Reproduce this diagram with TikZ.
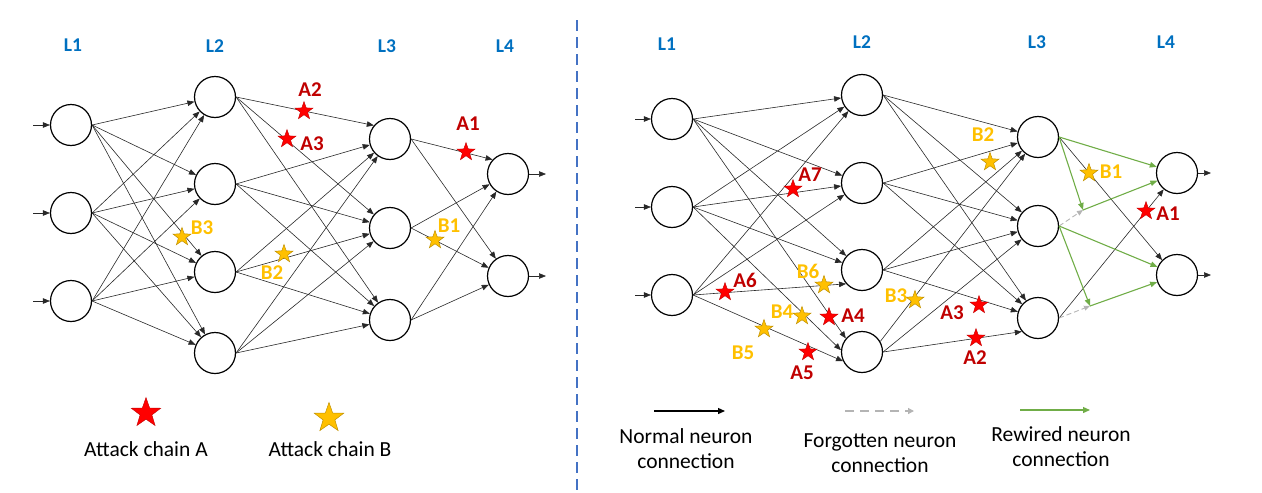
\documentclass[tikz,border=0pt]{standalone}
\usepackage{fontspec}
\setmainfont{Carlito}
\usetikzlibrary{arrows.meta,shapes.geometric}
\definecolor{layerblue}{RGB}{0,112,192}
\definecolor{sepblue}{RGB}{68,114,196}
\definecolor{redfill}{RGB}{255,0,0}
\definecolor{redtext}{RGB}{192,0,0}
\definecolor{goldfill}{RGB}{255,192,0}
\definecolor{goldedge}{RGB}{191,144,0}
\definecolor{rewired}{RGB}{112,173,71}
\definecolor{forgot}{RGB}{180,180,180}
\definecolor{edgecol}{RGB}{40,40,40}
\begin{document}
\begin{tikzpicture}[x=1pt,y=-1pt,
  neuron/.style={circle,draw,line width=1.2pt,minimum size=41pt,inner sep=0pt},
  conn/.style={draw=edgecol,line width=0.6pt,-{Triangle[length=7pt,width=5.5pt]}},
  greenconn/.style={draw=rewired,line width=1.1pt,-{Triangle[length=7pt,width=5.5pt]},rewired},
  forgotconn/.style={draw=forgot,line width=0.9pt,dash pattern=on 5pt off 3pt,-{Triangle[length=6pt,width=5pt]},forgot},
  layerlab/.style={font=\fontsize{19.5}{22}\selectfont\bfseries,text=layerblue,inner sep=0pt},
  alab/.style={font=\fontsize{21}{24}\selectfont\bfseries,text=redtext,inner sep=0pt},
  blab/.style={font=\fontsize{21}{24}\selectfont\bfseries,text=goldfill,inner sep=0pt},
  astar/.style={star,star points=5,star point ratio=2.5,minimum size=19pt,inner sep=0pt,fill=redfill,draw=redtext,line width=0.4pt},
  bstar/.style={star,star points=5,star point ratio=2.5,minimum size=19pt,inner sep=0pt,fill=goldfill,draw=goldedge,line width=0.5pt},
  bigastar/.style={astar,minimum size=31pt},
  bigbstar/.style={bstar,minimum size=31pt},
  legtext/.style={font=\fontsize{21.5}{25}\selectfont,align=center,inner sep=0pt}
]
\useasboundingbox (0,0) rectangle (1262,493);

% ================= LEFT NETWORK =================
\node[layerlab] (lL1) at (73,45) {L1};
\node[layerlab] (lL2) at (215,46) {L2};
\node[layerlab] (lL3) at (387,46) {L3};
\node[layerlab] (lL4) at (505,46) {L4};

\node[neuron] (l1a) at (71,125) {};
\node[neuron] (l1b) at (71,213) {};
\node[neuron] (l1c) at (71,301) {};
\node[neuron] (l2a) at (215,97) {};
\node[neuron] (l2b) at (215,184) {};
\node[neuron] (l2c) at (215,272) {};
\node[neuron] (l2d) at (215,353) {};
\node[neuron] (l3a) at (390,139) {};
\node[neuron] (l3b) at (390,228) {};
\node[neuron] (l3c) at (390,320) {};
\node[neuron] (l4a) at (508,174) {};
\node[neuron] (l4b) at (508,276) {};

\coordinate (lin1) at (33,125);
\coordinate (lin2) at (33,213);
\coordinate (lin3) at (33,301);
\coordinate (lout1) at (546,174);
\coordinate (lout2) at (546,276);
\draw[conn] (lin1) -- (l1a);
\draw[conn] (lin2) -- (l1b);
\draw[conn] (lin3) -- (l1c);
\draw[conn] (l4a) -- (lout1);
\draw[conn] (l4b) -- (lout2);

\foreach \a/\b in {l1a/l2a,l1a/l2b,l1a/l2c,l1a/l2d,
                   l1b/l2a,l1b/l2b,l1b/l2c,l1b/l2d,
                   l1c/l2a,l1c/l2b,l1c/l2c,l1c/l2d,
                   l2a/l3a.140,l2a/l3b.140,l2a/l3c,
                   l2b/l3a,l2b/l3b,l2b/l3c,
                   l2c/l3a,l2c/l3b,l2c/l3c,
                   l2d/l3a,l2d/l3b,l2d/l3c,
                   l3a/l4a.137,l3a/l4b,
                   l3b/l4a,l3b/l4b.157,
                   l3c/l4a,l3c/l4b}
  \draw[conn] (\a.east) -- (\b);

\node[astar] (lsA2) at (304,111) {};
\node[alab] (ltA2) at (310,90) {A2};
\node[astar] (lsA3) at (287,139) {};
\node[alab] (ltA3) at (312,144) {A3};
\node[astar] (lsA1) at (466,152) {};
\node[alab] (ltA1) at (468,124) {A1};
\node[bstar] (lsB1) at (435,240) {};
\node[blab] (ltB1) at (449,226) {B1};
\node[bstar] (lsB3) at (182,237) {};
\node[blab] (ltB3) at (202,228) {B3};
\node[bstar] (lsB2) at (284,254) {};
\node[blab] (ltB2) at (272,273) {B2};

% legend left
\node[bigastar] (legA) at (146,413) {};
\node[legtext] (legAt) at (146,449) {Attack chain A};
\node[bigbstar] (legB) at (329,418) {};
\node[legtext] (legBt) at (330,449) {Attack chain B};

% separator
\coordinate (sepTop) at (577,20);
\coordinate (sepBot) at (577,492);
\draw[sepblue,line width=1.4pt,dash pattern=on 11pt off 6pt] (sepTop) -- (sepBot);

% ================= RIGHT NETWORK =================
\node[layerlab] (rL1) at (667,44) {L1};
\node[layerlab] (rL2) at (862,42) {L2};
\node[layerlab] (rL3) at (1037,42) {L3};
\node[layerlab] (rL4) at (1166,42) {L4};

\node[neuron] (r1a) at (672,119) {};
\node[neuron] (r1b) at (672,207) {};
\node[neuron] (r1c) at (672,295) {};
\node[neuron] (r2a) at (862,95) {};
\node[neuron] (r2b) at (862,183) {};
\node[neuron] (r2c) at (862,270) {};
\node[neuron] (r2d) at (862,352) {};
\node[neuron] (r3a) at (1038,137) {};
\node[neuron] (r3b) at (1038,226) {};
\node[neuron] (r3c) at (1038,318) {};
\node[neuron] (r4a) at (1177,173) {};
\node[neuron] (r4b) at (1177,275) {};

\coordinate (rin1) at (635,119);
\coordinate (rin2) at (635,207);
\coordinate (rin3) at (635,295);
\coordinate (rout1) at (1211,173);
\coordinate (rout2) at (1211,275);
\draw[conn] (rin1) -- (r1a);
\draw[conn] (rin2) -- (r1b);
\draw[conn] (rin3) -- (r1c);
\draw[conn] (r4a) -- (rout1);
\draw[conn] (r4b) -- (rout2);

\foreach \a/\b in {r1a/r2a,r1a/r2b,r1a/r2c,r1a/r2d.140,
                   r1b/r2a,r1b/r2b,r1b/r2c,r1b/r2d.175,
                   r1c/r2a,r1c/r2b,r1c/r2c.221,r1c/r2d.206,
                   r2a/r3a,r2a/r3b,r2a/r3c,
                   r2b/r3a,r2b/r3b,r2b/r3c,
                   r2c/r3a,r2c/r3b,r2c/r3c,
                   r2d/r3b,r2d/r3c.220}
  \draw[conn] (\a.east) -- (\b);
\draw[conn] (r2d.30) -- (r3a);

\coordinate (j1) at (1083,210);
\coordinate (j2) at (1090,306);
\draw[conn] (r3a.east) -- (r4b.135);
\draw[conn] (r3c.east) -- (r4a);
\draw[forgotconn] (r3b.east) -- (j1);
\draw[forgotconn] (r3c.east) -- (j2);
\draw[greenconn] (r3a.east) -- (r4a);
\draw[greenconn] (r3b.east) -- (r4b);
\draw[greenconn] (r3a.east) -- (j1);
\draw[greenconn] (r3b.east) -- (j2);
\draw[greenconn] (j1) -- (r4a);
\draw[greenconn] (j2) -- (r4b);

\node[astar] (rsA7) at (793,189) {};
\node[alab] (rtA7) at (810,175) {A7};
\node[astar] (rsA6) at (725,292) {};
\node[alab] (rtA6) at (745,280) {A6};
\node[bstar] (rsB6) at (824,285) {};
\node[blab] (rtB6) at (808,271) {B6};
\node[bstar] (rsB4) at (802,316) {};
\node[blab] (rtB4) at (782,312) {B4};
\node[astar] (rsA4) at (829,317) {};
\node[alab] (rtA4) at (853,316) {A4};
\node[bstar] (rsB5) at (764,329) {};
\node[blab] (rtB5) at (743,353) {B5};
\node[astar] (rsA5) at (808,352) {};
\node[alab] (rtA5) at (802,373) {A5};
\node[bstar] (rsB3) at (915,300) {};
\node[blab] (rtB3) at (896,296) {B3};
\node[bstar] (rsB2) at (990,162) {};
\node[blab] (rtB2) at (983,135) {B2};
\node[bstar] (rsB1) at (1089,173) {};
\node[blab] (rtB1) at (1111,172) {B1};
\node[astar] (rsA1) at (1146,211) {};
\node[alab] (rtA1) at (1168,214) {A1};
\node[astar] (rsA3) at (979,305) {};
\node[alab] (rtA3) at (952,313) {A3};
\node[astar] (rsA2) at (976,338) {};
\node[alab] (rtA2) at (975,358) {A2};

% legend right
\coordinate (ln1) at (654,411);
\coordinate (ln2) at (725,411);
\draw[draw=black,line width=1.3pt,-{Triangle[length=7pt,width=6pt]}] (ln1) -- (ln2);
\node[legtext] (lnt) at (686,449) {Normal neuron\\connection};
\coordinate (lf1) at (845,411);
\coordinate (lf2) at (914,411);
\draw[draw=forgot,line width=1.3pt,dash pattern=on 9pt off 6pt,-{Triangle[length=6pt,width=6pt]},forgot] (lf1) -- (lf2);
\node[legtext] (lft) at (880,453) {Forgotten neuron\\connection};
\coordinate (lr1) at (1020,410);
\coordinate (lr2) at (1090,410);
\draw[draw=rewired,line width=1.3pt,-{Triangle[length=7pt,width=6pt]},rewired] (lr1) -- (lr2);
\node[legtext] (lrt) at (1061,447) {Rewired neuron\\connection};
\end{tikzpicture}
\end{document}
